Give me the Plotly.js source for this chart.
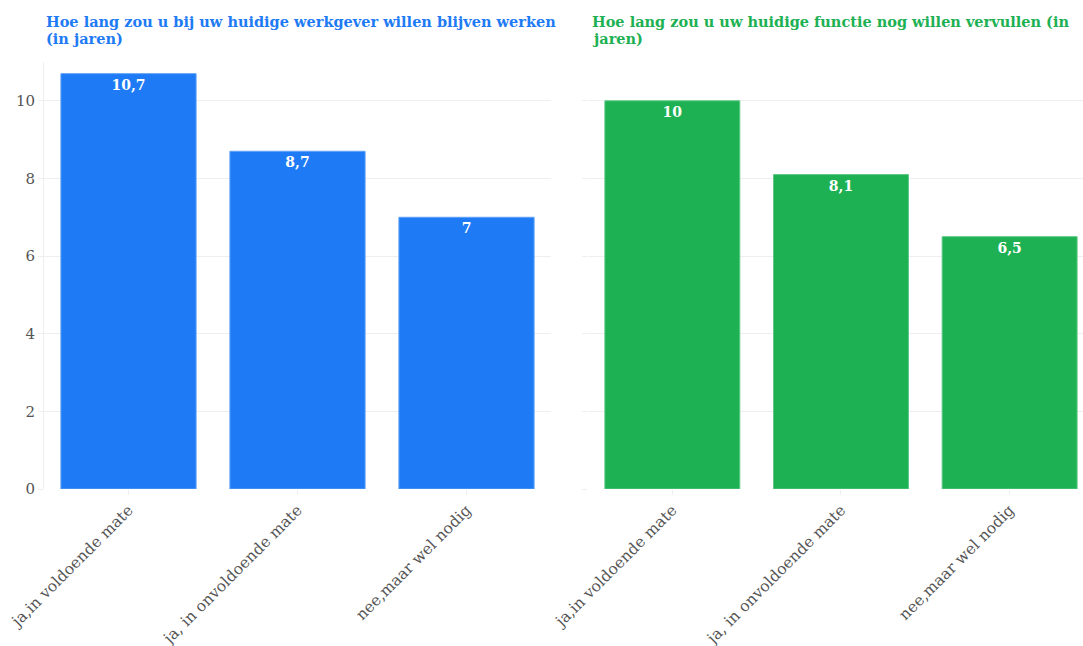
<!DOCTYPE html>
<html>
<head>
<meta charset="utf-8">
<script src="https://cdn.plot.ly/plotly-3.0.1.min.js"></script>
<style>html,body{margin:0;padding:0;overflow:hidden;background:#fff}</style>
</head>
<body>
<div id="chart" style="width:1083px;height:646px"></div>
<script>
const categories = ["ja,in voldoende mate", "ja, in onvoldoende mate", "nee,maar wel nodig"];
const werkgeverValues = [10.7, 8.7, 7];
const functieValues = [10, 8.1, 6.5];
const titleWerkgever = ["Hoe lang zou u bij uw huidige werkgever willen blijven werken", "(in jaren)"];
const titleFunctie = ["Hoe lang zou u uw huidige functie nog willen vervullen (in", "jaren)"];
const yTicks = [0, 2, 4, 6, 8, 10];

const W = 1083, H = 646;
const T = 62, B = 157;
const FONT = "DejaVu Serif, Liberation Serif, serif";
const BLUE = "#1e7bf5", GREEN = "#1db153";

const traces = [
  {type: "bar", x: categories, y: werkgeverValues, xaxis: "x", yaxis: "y",
   marker: {color: BLUE, line: {color: "#5fa2f7", width: 1}},
   texttemplate: "<b>%{y}</b>", textposition: "inside", insidetextanchor: "end",
   textfont: {color: "#fff", size: 14, family: FONT}, hoverinfo: "x+y"},
  {type: "bar", x: categories, y: functieValues, xaxis: "x2", yaxis: "y2",
   marker: {color: GREEN, line: {color: "#5cc884", width: 1}},
   texttemplate: "<b>%{y}</b>", textposition: "inside", insidetextanchor: "end",
   textfont: {color: "#fff", size: 14, family: FONT}, hoverinfo: "x+y"}
];

const xCommon = {type: "category", tickangle: -45, ticks: "outside", ticklen: 5, tickcolor: "#eeeeee",
  showgrid: false, showline: false, zeroline: false,
  tickfont: {family: FONT, size: 15.5, color: "#555"}};
const yCommon = {range: [0, 11], tickvals: yTicks, showgrid: true, gridcolor: "#eeeeee", gridwidth: 1,
  zeroline: false, ticks: "outside", ticklen: 5, tickcolor: "#eeeeee",
  tickfont: {family: FONT, size: 15, color: "#555"}};

const plotH = H - T - B;
function py(pixelY) { return 1 + (T - pixelY) / plotH; }
const annotations = [];
function addTitle(lines, xPix, color) {
  lines.forEach((line, i) => {
    annotations.push({text: "<b>" + line + "</b>", xref: "paper", yref: "paper",
      x: xPix / W, y: py(22 + i * 17), xanchor: "left", yanchor: "middle", align: "left",
      showarrow: false, font: {family: FONT, size: 14.5, color: color}});
  });
}
addTitle(titleWerkgever, 44, BLUE);
addTitle(titleFunctie, 590, GREEN);

const layout = {
  width: W, height: H,
  margin: {l: 0, r: 0, t: T, b: B},
  paper_bgcolor: "#fff", plot_bgcolor: "#fff",
  separators: ",.",
  showlegend: false,
  bargap: 0.2,
  font: {family: FONT, color: "#555"},
  xaxis: Object.assign({}, xCommon, {domain: [44 / W, 551 / W], anchor: "y", range: [-0.5, 2.5]}),
  yaxis: Object.assign({}, yCommon, {anchor: "x", showline: true, linecolor: "#eeeeee", linewidth: 1}),
  xaxis2: Object.assign({}, xCommon, {domain: [588 / W, 1], anchor: "y2", range: [-0.5, 2.435]}),
  yaxis2: Object.assign({}, yCommon, {anchor: "x2", showticklabels: false, showline: false}),
  annotations: annotations
};

Plotly.newPlot("chart", traces, layout, {displayModeBar: false, staticPlot: true});
</script>
</body>
</html>
